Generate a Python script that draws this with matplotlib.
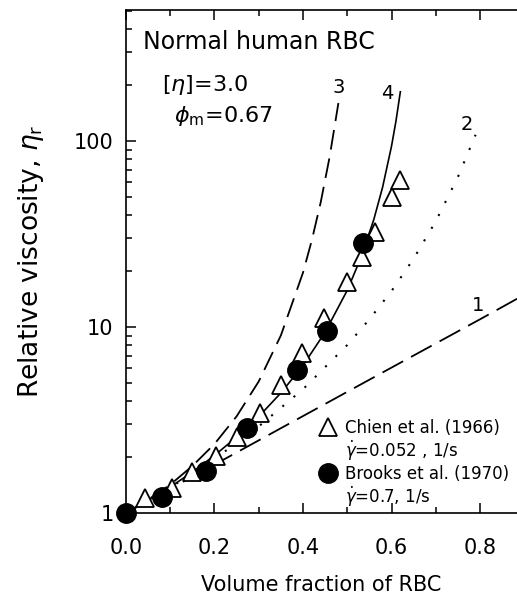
import numpy as np
import matplotlib
matplotlib.use('Agg')
import matplotlib.pyplot as plt
from matplotlib.lines import Line2D
from matplotlib.ticker import LogLocator, NullFormatter

chienPhi = [0.043, 0.104, 0.149, 0.203, 0.251, 0.302, 0.350, 0.397, 0.447, 0.499, 0.533, 0.562, 0.600, 0.619]
chienEta = [1.20, 1.36, 1.66, 2.02, 2.56, 3.45, 4.88, 7.25, 11.2, 17.5, 23.8, 32.4, 50.0, 61.7]
brooksPhi = [0.0, 0.081, 0.181, 0.273, 0.386, 0.454, 0.535]
brooksEta = [1.0, 1.22, 1.68, 2.86, 5.87, 9.5, 28.3]

# Model curves
curve1Phi = [0.0, 0.2, 0.4, 0.6, 0.8, 0.9]
curve1Eta = [1.0, 1.82, 3.32, 6.05, 11.0, 14.9]
curve2Phi = [0.0, 0.1, 0.2, 0.3, 0.4, 0.5, 0.55, 0.6, 0.65, 0.7, 0.75, 0.79]
curve2Eta = [1.0, 1.37, 1.95, 2.92, 4.63, 8.0, 11.0, 15.6, 23.3, 37.0, 64.0, 108.0]
curve3Phi = [0.0, 0.05, 0.1, 0.15, 0.2, 0.25, 0.3, 0.35, 0.4, 0.42, 0.44, 0.46, 0.48]
curve3Eta = [1.0, 1.18, 1.42, 1.79, 2.35, 3.31, 5.10, 9.01, 19.6, 29.3, 46.8, 81.7, 160.0]
curve4Phi = [0.0, 0.05, 0.1, 0.15, 0.2, 0.25, 0.3, 0.35, 0.4, 0.45, 0.5, 0.53, 0.56, 0.58, 0.6, 0.61, 0.62]
curve4Eta = [1.0, 1.17, 1.38, 1.66, 2.04, 2.56, 3.30, 4.42, 6.21, 9.38, 15.75, 23.3, 37.8, 56.6, 93.7, 127.6, 184.0]

fig = plt.figure(figsize=(5.17, 5.97), dpi=100)
ax = fig.add_axes([0.2437, 0.1407, 0.7563, 0.8425])

ax.plot(curve1Phi, curve1Eta, color='black', lw=1.3, dashes=(13, 5))
ax.plot(curve2Phi, curve2Eta, color='black', lw=1.5, dashes=(1, 6))
ax.plot(curve3Phi, curve3Eta, color='black', lw=1.3, dashes=(11, 5))
ax.plot(curve4Phi, curve4Eta, color='black', lw=1.2)

ax.plot(chienPhi, chienEta, linestyle='none', marker='^', ms=13, mfc='white', mec='black', mew=1.3, clip_on=False)
ax.plot(brooksPhi, brooksEta, linestyle='none', marker='o', ms=14, mfc='black', mec='black', clip_on=False)

ax.set_yscale('log')
ax.set_xlim(0, 0.8836)
ax.set_ylim(1, 506)
ax.set_xticks([0.0, 0.2, 0.4, 0.6, 0.8])
ax.set_xticks(np.arange(0.1, 0.9, 0.2), minor=True)
ax.set_xticklabels(['0.0', '0.2', '0.4', '0.6', '0.8'])
ax.set_yticks([1, 10, 100])
ax.set_yticklabels(['1', '10', '100'])
ax.yaxis.set_minor_locator(LogLocator(base=10, subs=np.arange(2, 10)))
ax.yaxis.set_minor_formatter(NullFormatter())
ax.tick_params(which='both', direction='in', top=True, right=False, labelsize=15, width=1.1)
ax.tick_params(which='major', length=7)
ax.tick_params(axis='x', which='major', pad=18)
ax.tick_params(axis='y', which='major', pad=9)
ax.tick_params(which='minor', length=4)
ax.spines['right'].set_visible(False)
for s in ['left', 'bottom', 'top']:
    ax.spines[s].set_linewidth(1.2)

ax.set_xlabel('Volume fraction of RBC', fontsize=15, labelpad=12)
ax.set_ylabel('Relative viscosity, $\\eta_\\mathregular{r}$', fontsize=19, labelpad=20)

# Annotations
ax.text(0.043, 0.936, 'Normal human RBC', transform=ax.transAxes, fontsize=17, va='center')
ax.text(0.093, 0.851, '[$\\eta$]=3.0', transform=ax.transAxes, fontsize=16, va='center')
ax.text(0.123, 0.789, '$\\phi_\\mathregular{m}$=0.67', transform=ax.transAxes, fontsize=16, va='center')
ax.text(0.481, 195, '3', fontsize=14, ha='center', va='center')
ax.text(0.59, 181, '4', fontsize=14, ha='center', va='center')
ax.text(0.771, 122, '2', fontsize=14, ha='center', va='center')
ax.text(0.795, 13.1, '1', fontsize=14, ha='center', va='center')

handles = [Line2D([], [], linestyle='none', marker='^', ms=13, mfc='white', mec='black', mew=1.3),
           Line2D([], [], linestyle='none'),
           Line2D([], [], linestyle='none', marker='o', ms=14, mfc='black', mec='black'),
           Line2D([], [], linestyle='none')]
labels = ['Chien et al. (1966)', '$\\dot{\\gamma}$=0.052 , 1/s',
          'Brooks et al. (1970)', '$\\dot{\\gamma}$=0.7, 1/s']
leg = ax.legend(handles, labels, loc='lower right', bbox_to_anchor=(1.01, -0.015), frameon=False,
                fontsize=12, handlelength=1.0, handletextpad=0.5, labelspacing=0.12, borderpad=0.2)

fig.savefig('out.png', dpi=100)
